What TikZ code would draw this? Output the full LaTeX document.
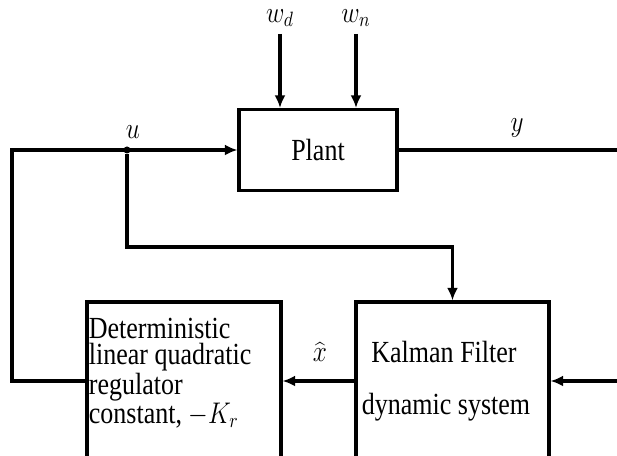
\documentclass[tikz,border=0pt]{standalone}
\usepackage{fontspec}
\setmainfont{Liberation Serif}
\usetikzlibrary{arrows.meta}

\begin{document}
\begin{tikzpicture}[
	block/.style={draw, line width=1.8pt, inner sep=0pt},
	sig/.style={line width=1.8pt},
	arr/.style={sig, -{Latex[length=2.5mm, width=2.2mm]}},
	txt/.style={font=\fontsize{14.8pt}{12.6pt}\selectfont, inner sep=0pt, yscale=1.18}
	]
	\clip (0,0) rectangle (12.34,9.12);
	% blocks
	\node[block, minimum width=3.16cm, minimum height=1.62cm] (plant) at (6.36,6.12) {};
	\node[block, minimum width=3.86cm, minimum height=3.16cm] (kalman) at (9.05,1.5) {};
	\node[block, minimum width=3.88cm, minimum height=3.16cm] (lqr) at (3.68,1.5) {};
	% texts inside the blocks
	\node[txt] (planttext) at (plant.center) {Plant};
	\node[txt] (kftop) at (8.88,2.08) {Kalman Filter};
	\node[txt] (kfbottom) at (8.92,0.98) {dynamic system};
	\node[txt, anchor=west, align=left] (lqrtext) at (1.77,1.66) {Deterministic\\linear quadratic\\regulator\\constant, $-K_r$};
	% labels
	\node[txt] (wd) at (5.6,8.76) {$w_d$};
	\node[txt] (wn) at (7.12,8.76) {$w_n$};
	\node[txt] (ulabel) at (2.66,6.48) {$u$};
	\node[txt] (ylabel) at (10.34,6.56) {$y$};
	\node[txt] (xhat) at (6.4,2.08) {$\widehat{x}$};
	\node[circle, fill, inner sep=0pt, minimum size=0.14cm] (split) at (2.54,6.12) {};
	% free ends
	\coordinate (wdstart) at (5.6,8.44);
	\coordinate (wnstart) at (7.12,8.44);
	\coordinate (cornerL) at (0.24,6.12);
	\coordinate (branch) at (2.54,4.18);
	\coordinate (yout) at (12.34,6.12);
	\coordinate (yin) at (12.34,1.5);
	% connectors
	\draw[arr] (wdstart) -- (wdstart |- plant.north);
	\draw[arr] (wnstart) -- (wnstart |- plant.north);
	\draw[arr] (lqr.west) -| (cornerL) -- (plant.west);
	\draw[sig] (plant.east) -- (yout);
	\draw[arr] (split) -- (branch) -| (kalman.north);
	\draw[arr] (yin) -- (kalman.east);
	\draw[arr] (kalman.west) -- (lqr.east);
\end{tikzpicture}
\end{document}
